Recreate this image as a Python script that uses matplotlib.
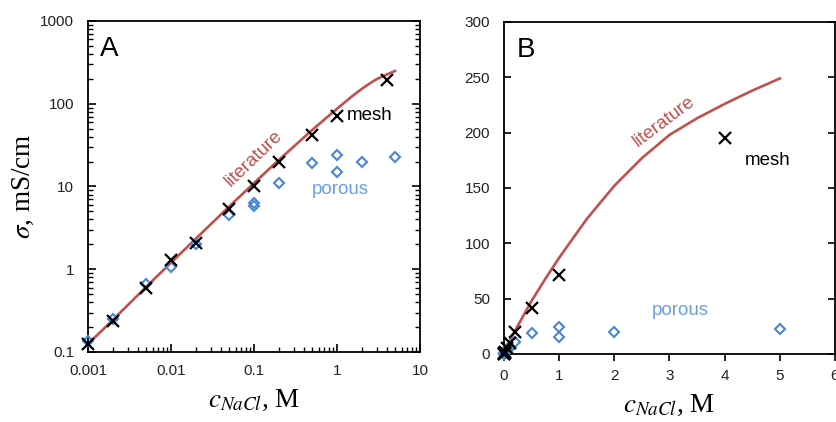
import matplotlib
matplotlib.use("Agg")
import matplotlib.pyplot as plt
from matplotlib.ticker import LogLocator, FixedLocator, NullFormatter, FuncFormatter

# ---------------- data ----------------
mesh_c = [0.001, 0.002, 0.005, 0.01, 0.02, 0.05, 0.1, 0.2, 0.5, 1, 4]
mesh_sigma = [0.125, 0.24, 0.6, 1.28, 2.05, 5.4, 10.2, 19.5, 42, 71, 195]

porous_c = [0.001, 0.002, 0.005, 0.01, 0.02, 0.05, 0.1, 0.1, 0.2, 0.5, 1, 1, 2, 5]
porous_sigma = [0.135, 0.25, 0.66, 1.05, 2.0, 4.5, 6.3, 5.8, 11, 19, 24, 15, 19.5, 22.5]

lit_c = [0.001, 0.002, 0.005, 0.01, 0.02, 0.05, 0.1, 0.2, 0.5, 0.75, 1, 1.5, 2,
         2.5, 3, 3.5, 4, 4.5, 5]
lit_sigma = [0.125, 0.245, 0.61, 1.2, 2.35, 5.7, 11, 21, 48, 68, 87, 122, 152,
             177, 198, 213, 226, 238, 249]

log_xticks = [0.001, 0.01, 0.1, 1, 10]
log_xlabels = ["0.001", "0.01", "0.1", "1", "10"]
log_yticks = [0.1, 1, 10, 100, 1000]
log_ylabels = ["0.1", "1", "10", "100", "1000"]
lin_xticks = [0, 1, 2, 3, 4, 5, 6]
lin_yticks = [0, 50, 100, 150, 200, 250, 300]

# ---------------- style ----------------
RED = "#C0504D"
BLUE = "#4A86D4"
BLUE_TXT = "#6A9FDF"
plt.rcParams["font.family"] = ["Liberation Sans", "DejaVu Sans"]
plt.rcParams["mathtext.fontset"] = "stix"

fig = plt.figure(figsize=(8.36, 4.22), dpi=100)
axA = fig.add_axes([0.10526, 0.16588, 0.39713, 0.78436])
axB = fig.add_axes([0.60287, 0.16114, 0.39593, 0.78673])

label_kw = dict(fontsize=19.5, family=["Liberation Serif", "DejaVu Serif"])
note_fs = 13.5


def draw(ax):
    ax.plot(lit_c, lit_sigma, color=RED, lw=1.9, zorder=2, clip_on=False)
    ax.plot(porous_c, porous_sigma, linestyle="none", marker="D", ms=5.5,
            mfc="none", mec=BLUE, mew=1.5, zorder=3, clip_on=False)
    ax.plot(mesh_c, mesh_sigma, linestyle="none", marker="x", ms=8.5,
            mec="black", mew=1.6, zorder=4, clip_on=False)
    for s in ax.spines.values():
        s.set_linewidth(1.3)
    ax.tick_params(labelsize=11, labelcolor="#222222")


# ---------------- panel A ----------------
draw(axA)
axA.set_xscale("log")
axA.set_yscale("log")
axA.set_xlim(0.001, 10)
axA.set_ylim(0.1, 1000)
axA.xaxis.set_major_locator(FixedLocator(log_xticks))
axA.xaxis.set_major_formatter(FuncFormatter(lambda v, p: log_xlabels[log_xticks.index(v)] if v in log_xticks else ""))
axA.yaxis.set_major_locator(FixedLocator(log_yticks))
axA.yaxis.set_major_formatter(FuncFormatter(lambda v, p: log_ylabels[log_yticks.index(v)] if v in log_yticks else ""))
axA.xaxis.set_minor_locator(LogLocator(base=10, subs=range(2, 10)))
axA.yaxis.set_minor_locator(LogLocator(base=10, subs=range(2, 10)))
axA.xaxis.set_minor_formatter(NullFormatter())
axA.yaxis.set_minor_formatter(NullFormatter())
axA.tick_params(which="both", direction="in", left=True, right=True, bottom=True, top=False)
axA.tick_params(which="major", length=6, width=1.2)
axA.tick_params(axis="y", which="major", pad=10)
axA.tick_params(axis="x", which="major", pad=9)
axA.tick_params(which="minor", length=3.5, width=1.0)
axA.set_xlabel(r"$c_{NaCl}$, M", labelpad=7, **label_kw)
axA.set_ylabel(r"$\sigma$, mS/cm", labelpad=3, **label_kw)
axA.text(0.035, 0.955, "A", transform=axA.transAxes, fontsize=20, va="top", ha="left")
axA.text(1.3, 72, "mesh", fontsize=note_fs, va="center", ha="left", color="black")
axA.text(0.5, 9.1, "porous", fontsize=note_fs, va="center", ha="left", color=BLUE_TXT)
axA.text(0.1, 21.5, "literature", fontsize=note_fs, va="center", ha="center", color=RED,
         rotation=44, rotation_mode="anchor")

# ---------------- panel B ----------------
draw(axB)
axB.set_xlim(0, 6)
axB.set_ylim(0, 300)
axB.set_xticks(lin_xticks)
axB.set_yticks(lin_yticks)
axB.tick_params(axis="y", direction="in", left=True, right=True, length=5, width=1.2, pad=10)
axB.tick_params(axis="x", direction="out", length=5, width=1.2, pad=6)
axB.set_xlabel(r"$c_{NaCl}$, M", labelpad=7, **label_kw)
axB.text(0.04, 0.955, "B", transform=axB.transAxes, fontsize=20, va="top", ha="left")
axB.text(4.37, 175, "mesh", fontsize=note_fs, va="center", ha="left", color="black")
axB.text(2.68, 39, "porous", fontsize=note_fs, va="center", ha="left", color=BLUE_TXT)
axB.text(2.9, 210, "literature", fontsize=note_fs, va="center", ha="center", color=RED,
         rotation=37, rotation_mode="anchor")

fig.savefig("out.png", dpi=100)
